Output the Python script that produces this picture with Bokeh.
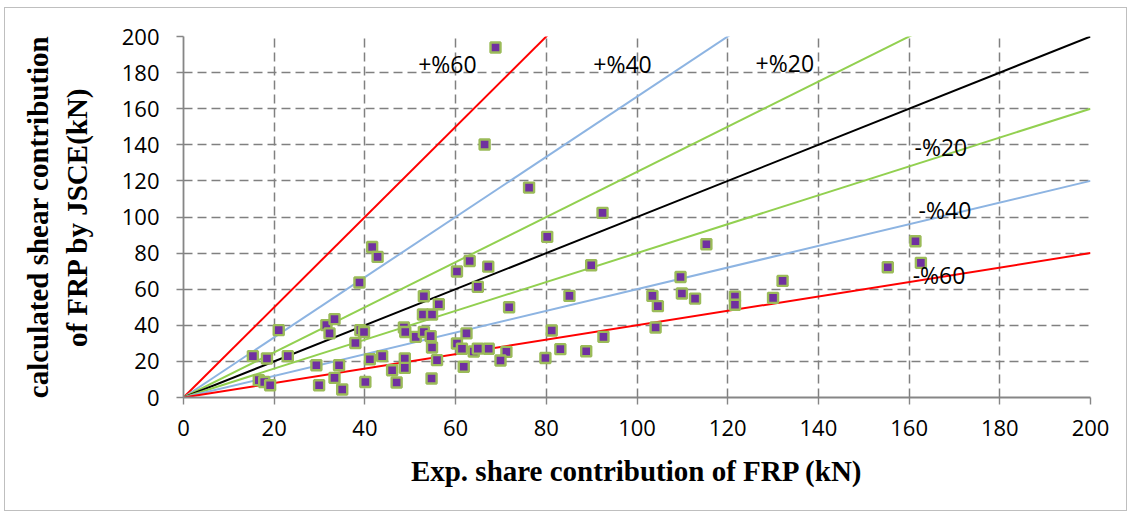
from bokeh.plotting import figure
from bokeh.models import Range1d, FixedTicker, ColumnDataSource
from bokeh.core.properties import value
from bokeh.embed import file_html
from bokeh.resources import INLINE

# Experimental vs. calculated (JSCE) FRP shear contribution, kN
exp_kn = [15.3, 18.4, 23.0, 16.6, 17.8, 19.1, 21.0, 29.3, 29.9, 31.5,
          33.3, 32.2, 33.3, 34.3, 35.0, 37.9, 39.0, 39.8, 38.8, 40.1,
          41.1, 41.6, 42.8, 43.8, 46.0, 47.0, 48.6, 48.9, 48.8, 48.8,
          51.2, 53.0, 54.5, 52.8, 54.8, 53.0, 56.3, 54.8, 55.9, 54.7,
          60.3, 63.1, 67.2, 64.9, 71.8, 62.4, 60.3, 61.4, 64.0, 64.9,
          67.3, 71.2, 69.9, 61.8, 68.8, 66.4, 76.2, 80.2, 81.2, 79.8,
          83.1, 85.1, 88.8, 89.9, 92.4, 92.6, 103.4, 104.6, 104.1, 109.6,
          109.9, 112.8, 115.3, 121.6, 121.6, 130.0, 132.1, 155.3, 161.4, 162.6]
jsce_kn = [22.9, 21.6, 22.9, 9.6, 8.6, 6.8, 37.3, 17.9, 6.8, 40.1,
           43.4, 35.5, 10.9, 17.9, 4.4, 30.2, 37.3, 36.3, 63.7, 8.6,
           21.2, 83.4, 77.9, 22.9, 15.1, 8.3, 38.8, 36.3, 21.6, 16.4,
           33.6, 36.3, 34.0, 46.0, 46.0, 56.1, 51.7, 27.7, 20.7, 10.5,
           69.8, 75.6, 72.5, 61.3, 50.0, 35.5, 29.9, 27.0, 25.5, 27.1,
           27.0, 25.3, 20.5, 17.0, 193.9, 140.2, 116.3, 89.0, 37.1, 21.9,
           26.8, 56.3, 25.6, 73.3, 102.3, 33.6, 56.3, 50.6, 38.8, 66.8,
           57.6, 54.8, 84.9, 55.9, 51.4, 55.2, 64.6, 72.2, 86.6, 74.6]

# Error bands: calculated = slope * experimental
band_slopes = [2.5, 1 / 0.6, 1.25, 1.0, 0.8, 0.6, 0.4]
band_colors = ["#FF0000", "#8DB4E2", "#92D050", "#000000", "#92D050", "#8DB4E2", "#FF0000"]

band_labels = ["+%60", "+%40", "+%20", "-%20", "-%40", "-%60"]
label_x = [58.2, 96.8, 132.6, 167.0, 167.9, 166.6]
label_y = [184.7, 184.7, 185.2, 138.7, 103.8, 67.8]

axis_ticks = list(range(0, 201, 20))

p = figure(width=1123, height=504, output_backend="svg", toolbar_location=None,
           x_range=Range1d(0, 200), y_range=Range1d(0, 200),
           min_border_left=178, min_border_right=38,
           min_border_top=28, min_border_bottom=115)
p.styles = {"margin-left": "4px", "margin-top": "7px", "border": "1px solid #bfbfbf"}
p.background_fill_color = "white"
p.border_fill_color = "white"
p.outline_line_color = None

for ax in (p.xaxis, p.yaxis):
    ax.ticker = FixedTicker(ticks=axis_ticks)
    ax.axis_line_color = "#868686"
    ax.axis_line_width = 1.8
    ax.major_tick_line_color = "#868686"
    ax.major_tick_line_width = 1.4
    ax.major_tick_in = 0
    ax.major_tick_out = 7
    ax.minor_tick_line_color = None
    ax.major_label_text_font = "Open Sans"
    ax.major_label_text_font_size = "22px"
    ax.major_label_text_color = "black"
    ax.axis_label_text_font = "Liberation Serif"
    ax.axis_label_text_font_style = "bold"
    ax.axis_label_text_font_size = "29px"
    ax.axis_label_text_color = "black"

p.xaxis.axis_label = "Exp. share contribution of FRP (kN)"
p.yaxis.axis_label = "calculated shear contribution\nof FRP by JSCE(kN)"
p.xaxis.major_label_standoff = 15
p.yaxis.major_label_standoff = 17
p.xaxis.axis_label_standoff = 16
p.yaxis.axis_label_standoff = 26

for g in (p.xgrid, p.ygrid):
    g.ticker = FixedTicker(ticks=axis_ticks)
    g.grid_line_color = "#808080"
    g.grid_line_width = 1.5
    g.grid_line_dash = "9 5"

for k, c in zip(band_slopes, band_colors):
    p.line(x=[0, 200], y=[0, 200 * k], line_color=c, line_width=2)

pts = ColumnDataSource(data=dict(x=exp_kn, y=jsce_kn))
p.scatter(x="x", y="y", source=pts, marker="square", size=10,
          fill_color="#7030A0", line_color="#9BBB59", line_width=2.4)

lbl = ColumnDataSource(data=dict(x=label_x, y=label_y, t=band_labels))
p.text(x="x", y="y", text="t", source=lbl, text_font=value("Open Sans"),
       text_font_size="23px", text_align="center", text_baseline="middle",
       text_color="black")

open("out.html", "w").write(file_html(p, INLINE))
